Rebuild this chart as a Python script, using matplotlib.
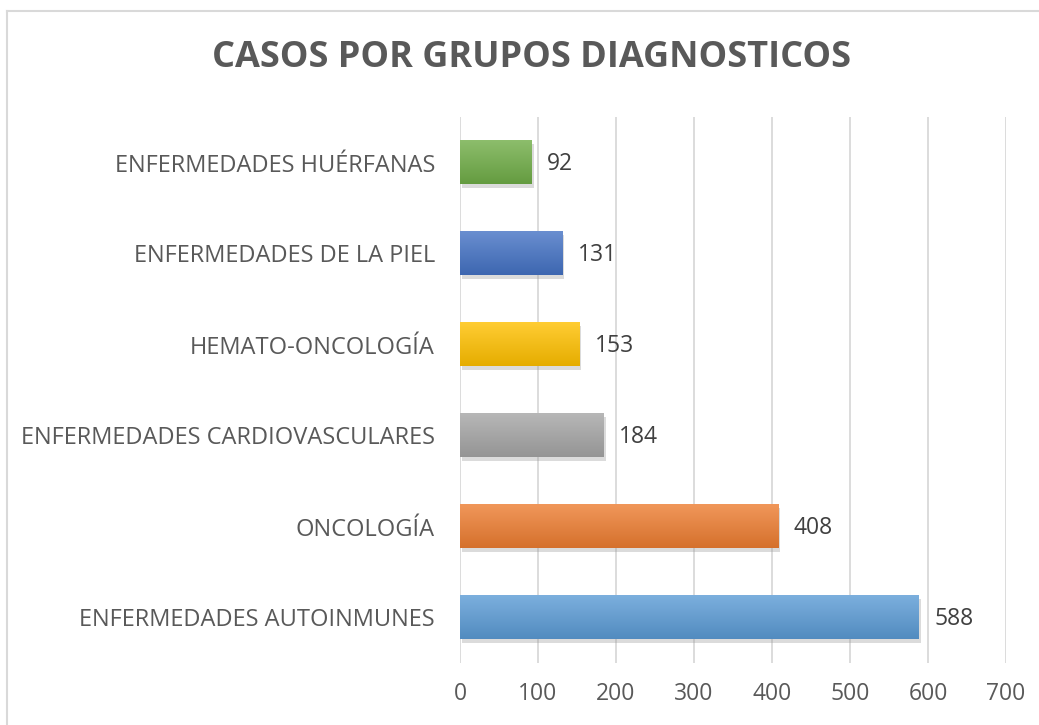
import numpy as np
import matplotlib.pyplot as plt
from matplotlib.lines import Line2D
import matplotlib.patheffects as pe
from matplotlib.colors import to_rgb

categorias = ['ENFERMEDADES AUTOINMUNES', 'ONCOLOGÍA', 'ENFERMEDADES CARDIOVASCULARES',
              'HEMATO-ONCOLOGÍA', 'ENFERMEDADES DE LA PIEL', 'ENFERMEDADES HUÉRFANAS']
casos = [588, 408, 184, 153, 131, 92]
colores = ['#5B9BD5', '#ED7D31', '#A5A5A5', '#FFC000', '#4472C4', '#70AD47']
ticks_x = [0, 100, 200, 300, 400, 500, 600, 700]

plt.rcParams['font.family'] = ['Open Sans', 'DejaVu Sans']

W, H = 1039, 725
fig = plt.figure(figsize=(W/100, H/100), dpi=100)
ax = fig.add_axes([460/W, 1-663/H, (1006-460)/W, (663-117)/H])

y = np.arange(len(casos))
h = 0.48
bars = ax.barh(y, casos, height=h, color=colores, zorder=3)

# vertical gradient inside each bar, plus a soft shadow
for b, c in zip(bars, colores):
    base = np.array(to_rgb(c))
    light = base + (1 - base)*0.2
    dark = base*0.9
    t = np.linspace(0, 1, 64)[:, None]
    grad = light[None, :]*(1-t) + dark[None, :]*t
    img = grad[:, None, :]
    x0, y0 = b.get_x(), b.get_y()
    ax.imshow(img, extent=[x0, x0+b.get_width(), y0, y0+b.get_height()],
              aspect='auto', zorder=4, interpolation='bilinear')
    b.set_path_effects([pe.SimplePatchShadow(offset=(1.5, -2.5), shadow_rgbFace='#999999', alpha=0.35),
                        pe.Normal()])

for yi, v in zip(y, casos):
    ax.text(v + 20, yi - 0.02, str(v), va='center', ha='left', fontsize=16.5, color='#404040', zorder=5)

ax.set_xlim(0, 700)
ax.set_ylim(-0.5, 5.5)
ax.set_xticks(ticks_x)
ax.set_yticks(y)
ax.set_yticklabels(categorias)
ax.tick_params(axis='both', length=0, labelsize=16.5, colors='#595959')
ax.tick_params(axis='y', labelsize=17)
ax.tick_params(axis='x', pad=14)
ax.tick_params(axis='y', pad=18)
ax.grid(axis='x', color='#D9D9D9', linewidth=1.3, zorder=0)
for s in ax.spines.values():
    s.set_visible(False)

fig.text(531/W, 1-58/H, 'CASOS POR GRUPOS DIAGNOSTICOS', ha='center', va='center',
         fontsize=26, fontweight='bold', color='#595959')

# chart area border (partly cut off in the original)
fig.add_artist(Line2D([7/W, 7/W], [0, 1-10.5/H], transform=fig.transFigure, color='#D9D9D9', lw=1.5))
fig.add_artist(Line2D([7/W, 1], [1-10.5/H, 1-10.5/H], transform=fig.transFigure, color='#D9D9D9', lw=1.5))

fig.savefig('out.png', dpi=100)
